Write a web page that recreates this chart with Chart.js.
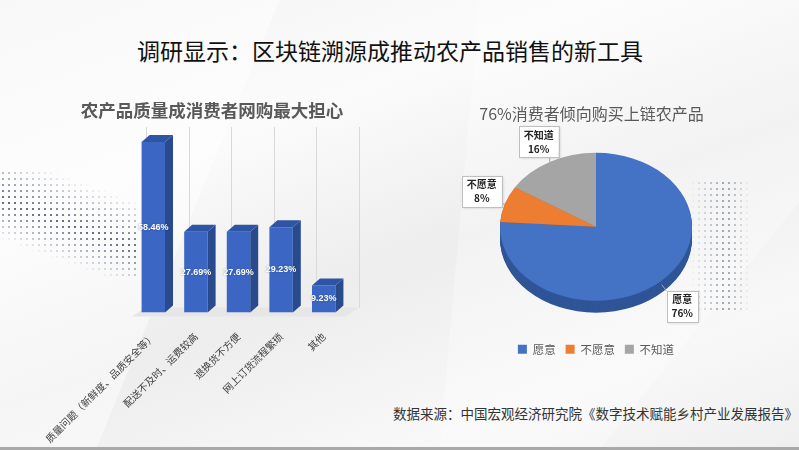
<!DOCTYPE html>
<html>
<head>
<meta charset="utf-8">
<script src="https://cdn.jsdelivr.net/npm/chart.js@4.4.0/dist/chart.umd.min.js"></script>
<style>
  html, body { margin: 0; padding: 0; }
  body {
    width: 799px; height: 450px; overflow: hidden; position: relative;
    font-family: "Noto Sans CJK SC", sans-serif;
    background: linear-gradient(160deg, #f3f3f3 0%, #fbfbfb 30%, #ededed 55%, #f8f8f8 80%, #efefef 100%);
  }
  .facet { position: absolute; inset: 0; background: #ffffff; opacity: .45; }
  .dots { position: absolute; background-image: radial-gradient(circle, #5d6b84 0.9px, transparent 1.3px); background-size: 6px 6px; }
  #title { position: absolute; left: 0; width: 780px; top: 33px; text-align: center; font-size: 23px; color: #111; white-space: nowrap; }
  #barTitle { position: absolute; left: 0; width: 424px; top: 97px; text-align: center; font-size: 17.5px; font-weight: bold; color: #595959; white-space: nowrap; }
  #pieTitle { position: absolute; left: 400px; width: 383px; top: 101px; text-align: center; font-size: 16px; color: #595959; white-space: nowrap; }
  #source { position: absolute; left: 393px; top: 403px; font-size: 13.5px; color: #333; white-space: nowrap; }
  #barBox { position: absolute; left: 0; top: 95px; width: 390px; height: 360px; }
  #pieBox { position: absolute; left: 400px; top: 95px; width: 399px; height: 270px; }
  #edge { position: absolute; left: 0; right: 0; bottom: 0; height: 3px; background: #a9a9a9; }
</style>
</head>
<body>
<div class="facet" style="clip-path: polygon(0 0, 35% 0, 12% 100%, 0 100%);"></div>
<div class="facet" style="clip-path: polygon(60% 0, 100% 0, 100% 45%, 75% 100%, 55% 100%);opacity:.3"></div>
<div class="dots" style="left:0;top:170px;width:140px;height:110px;-webkit-mask-image:linear-gradient(200deg, transparent 20%, #000 50%, transparent 75%);mask-image:linear-gradient(200deg, transparent 20%, #000 50%, transparent 75%);"></div>
<div class="dots" style="left:690px;top:180px;width:60px;height:130px;opacity:.6;-webkit-mask-image:linear-gradient(90deg, transparent, #000 60%, transparent);mask-image:linear-gradient(90deg, transparent, #000 60%, transparent);"></div>

<div id="title">调研显示：区块链溯源成推动农产品销售的新工具</div>
<div id="barBox"><canvas id="barChart"></canvas></div>
<div id="barTitle">农产品质量成消费者网购最大担心</div>
<div id="pieBox"><canvas id="pieChart"></canvas></div>
<div id="pieTitle">76%消费者倾向购买上链农产品</div>
<div id="source">数据来源：中国宏观经济研究院《数字技术赋能乡村产业发展报告》</div>
<div id="edge"></div>

<script>
// left chart: what worries buyers most
const worryLabels = ['质量问题（新鲜度、品质安全等）', '配送不及时、运费较高', '退换货不方便', '网上订货流程繁琐', '其他'];
const worryValues = [58.46, 27.69, 27.69, 29.23, 9.23];

// right chart: willingness to buy traceable products
const willLabels = ['愿意', '不愿意', '不知道'];
const willValues = [76, 8, 16];

Chart.defaults.font.family = '"Noto Sans CJK SC", sans-serif';

// 3D look for the columns + value labels
const barDepth = { dx: 8, dy: 7, wall: 14 };
const bar3d = {
  id: 'bar3d',
  beforeDatasetsDraw(chart) {
    const ctx = chart.ctx;
    const a = chart.chartArea;
    const x = chart.scales.x;
    const step = (x.right - x.left) / worryLabels.length;
    ctx.save();
    // floor
    ctx.fillStyle = '#e6e6e6';
    ctx.beginPath();
    ctx.moveTo(x.left, a.bottom + 4);
    ctx.lineTo(x.right, a.bottom + 4);
    ctx.lineTo(x.right + barDepth.wall, a.bottom - 5);
    ctx.lineTo(x.left + barDepth.wall, a.bottom - 5);
    ctx.closePath();
    ctx.fill();
    // back wall dividers
    ctx.strokeStyle = '#d9d9d9';
    ctx.lineWidth = 1;
    for (let i = 0; i <= worryLabels.length; i++) {
      const px = Math.round(x.left + i * step + barDepth.wall) + 0.5;
      ctx.beginPath();
      ctx.moveTo(px, a.top + 4);
      ctx.lineTo(px, a.bottom - 5);
      ctx.stroke();
    }
    ctx.restore();
  },
  afterDatasetsDraw(chart) {
    const ctx = chart.ctx;
    const { dx, dy } = barDepth;
    ctx.save();
    chart.getDatasetMeta(0).data.forEach((bar, i) => {
      const l = bar.x - bar.width / 2, r = bar.x + bar.width / 2, t = bar.y, b = bar.base;
      ctx.fillStyle = '#294a8c';
      ctx.beginPath();
      ctx.moveTo(r, t); ctx.lineTo(r + dx, t - dy); ctx.lineTo(r + dx, b - dy); ctx.lineTo(r, b);
      ctx.closePath(); ctx.fill();
      ctx.fillStyle = '#2e55a4';
      ctx.beginPath();
      ctx.moveTo(l, t); ctx.lineTo(l + dx, t - dy); ctx.lineTo(r + dx, t - dy); ctx.lineTo(r, t);
      ctx.closePath(); ctx.fill();
      ctx.fillStyle = '#ffffff';
      ctx.shadowColor = 'rgba(30,50,90,0.6)';
      ctx.shadowBlur = 1.5;
      ctx.font = 'bold 9px "Liberation Sans", Arial, sans-serif';
      ctx.textAlign = 'center';
      ctx.textBaseline = 'middle';
      ctx.fillText(worryValues[i].toFixed(2) + '%', bar.x, (t + b) / 2);
      ctx.shadowColor = 'transparent';
    });
    ctx.restore();
  }
};

new Chart(document.getElementById('barChart'), {
  type: 'bar',
  data: {
    labels: worryLabels,
    datasets: [{
      data: worryValues,
      backgroundColor: '#3b66c3',
      barPercentage: 0.55,
      categoryPercentage: 1
    }]
  },
  options: {
    responsive: true,
    maintainAspectRatio: false,
    animation: false,
    layout: { padding: { left: 132, right: 45, top: 28, bottom: 0 } },
    plugins: {
      legend: { display: false },
      tooltip: { enabled: false },
      title: { display: false }
    },
    scales: {
      x: {
        grid: { display: false },
        border: { display: false },
        ticks: { color: '#404040', font: { size: 10 }, minRotation: 45, maxRotation: 45, autoSkip: false, padding: 10 }
      },
      y: { display: false, min: 0, max: 65 }
    }
  },
  plugins: [bar3d]
});

// tilted pie with a rim and callout boxes
const tilt = 0.77, rim = 12, lift = 5;
const rimColors = ['#2f5597', '#b35a1d', '#7b7b7b'];
const pie3d = {
  id: 'pie3d',
  beforeDatasetsDraw(chart) {
    const ctx = chart.ctx;
    const arcs = chart.getDatasetMeta(0).data;
    const cx = arcs[0].x, cy = arcs[0].y - lift, r = arcs[0].outerRadius;
    ctx.save();
    for (let d = rim; d > 0; d--) {
      arcs.forEach((arc, i) => {
        ctx.fillStyle = rimColors[i];
        ctx.beginPath();
        ctx.moveTo(cx, cy + d);
        ctx.ellipse(cx, cy + d, r, r * tilt, 0, arc.startAngle, arc.endAngle);
        ctx.closePath();
        ctx.fill();
      });
    }
    ctx.translate(cx, cy);
    ctx.scale(1, tilt);
    ctx.translate(-cx, -arcs[0].y);
  },
  afterDatasetsDraw(chart) {
    const ctx = chart.ctx;
    ctx.restore();
    const arcs = chart.getDatasetMeta(0).data;
    const cx = arcs[0].x, cy = arcs[0].y - lift, r = arcs[0].outerRadius;
    ctx.save();
    ctx.font = 'bold 10px "Noto Sans CJK SC", sans-serif';
    arcs.forEach((arc, i) => {
      const mid = (arc.startAngle + arc.endAngle) / 2;
      const c = Math.cos(mid), s = Math.sin(mid);
      const ex = cx + r * c;
      const ey = cy + r * tilt * s + (s > 0 ? 4 : 0);
      const side = Math.abs(c) > 0.9;
      const reach = side ? 24 : (s < 0 ? 23 : 30);
      const bx = ex + c * reach, by = ey + s * reach - (side ? 5 : 0);
      const lines = [willLabels[i], willValues[i] + '%'];
      const w = Math.max(...lines.map(t => ctx.measureText(t).width)) + 10, h = 31;
      const x0 = bx - w / 2, y0 = by - h / 2;
      // leader line to the nearest point of the box
      const nx = Math.max(x0, Math.min(ex, x0 + w)), ny = Math.max(y0, Math.min(ey, y0 + h));
      ctx.strokeStyle = '#a6a6a6';
      ctx.lineWidth = 1;
      ctx.beginPath(); ctx.moveTo(ex, ey); ctx.lineTo(nx, ny); ctx.stroke();
      ctx.shadowColor = 'rgba(0,0,0,0.25)';
      ctx.shadowBlur = 3;
      ctx.shadowOffsetX = 1; ctx.shadowOffsetY = 1;
      ctx.fillStyle = '#ffffff';
      ctx.fillRect(x0, y0, w, h);
      ctx.shadowColor = 'transparent';
      ctx.strokeStyle = '#bfbfbf';
      ctx.strokeRect(Math.round(x0) + 0.5, Math.round(y0) + 0.5, Math.round(w), h);
      ctx.fillStyle = '#222';
      ctx.textAlign = 'center';
      ctx.textBaseline = 'middle';
      ctx.fillText(lines[0], bx, by - 7);
      ctx.fillText(lines[1], bx, by + 7);
    });
    ctx.restore();
  }
};

new Chart(document.getElementById('pieChart'), {
  type: 'pie',
  data: {
    labels: willLabels,
    datasets: [{
      data: willValues,
      backgroundColor: ['#4472c4', '#ed7d31', '#a5a5a5'],
      borderWidth: 0
    }]
  },
  options: {
    responsive: true,
    maintainAspectRatio: false,
    animation: false,
    layout: { padding: { left: 100, right: 107, top: 35, bottom: 0 } },
    plugins: {
      tooltip: { enabled: false },
      title: { display: false },
      legend: {
        position: 'bottom',
        labels: { color: '#595959', font: { size: 11.5 }, boxWidth: 9, boxHeight: 9, padding: 10 }
      }
    }
  },
  plugins: [pie3d]
});
</script>
</body>
</html>
